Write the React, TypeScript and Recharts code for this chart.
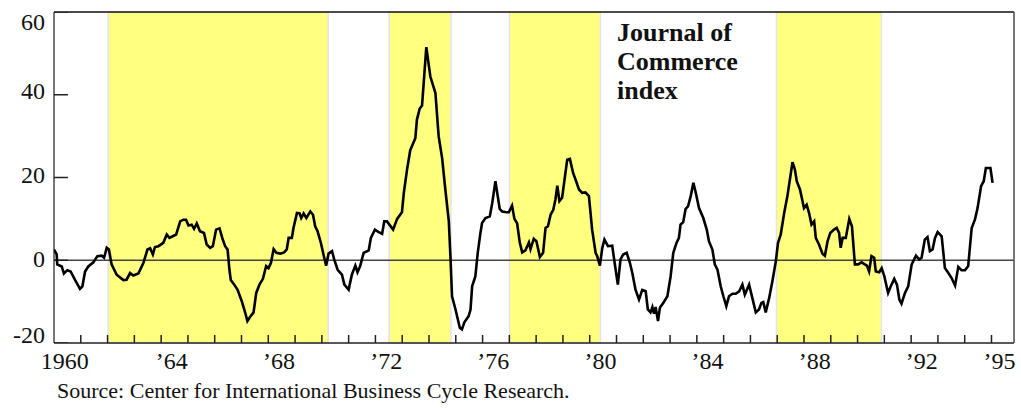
import { ComposedChart, Line, XAxis, YAxis, ReferenceArea, ReferenceLine } from 'recharts'

// decimal year of each reading
const dates = [
  1960.0, 1960.1, 1960.12, 1960.29, 1960.37, 1960.5, 1960.62, 1960.78, 1960.97, 1961.06,
  1961.16, 1961.28, 1961.47, 1961.62, 1961.78, 1961.87, 1961.97, 1962.05, 1962.15, 1962.34,
  1962.59, 1962.71, 1962.84, 1962.96, 1963.15, 1963.34, 1963.49, 1963.59, 1963.69, 1963.77,
  1963.9, 1964.08, 1964.21, 1964.31, 1964.43, 1964.56, 1964.71, 1964.83, 1964.93, 1965.02,
  1965.14, 1965.23, 1965.33, 1965.45, 1965.6, 1965.7, 1965.83, 1965.93, 1966.05, 1966.18,
  1966.3, 1966.39, 1966.48, 1966.55, 1966.6, 1966.73, 1966.85, 1967.01, 1967.14, 1967.22,
  1967.32, 1967.45, 1967.55, 1967.67, 1967.8, 1967.92, 1968.01, 1968.1, 1968.2, 1968.3,
  1968.45, 1968.59, 1968.69, 1968.76, 1968.88, 1968.94, 1969.07, 1969.17, 1969.23, 1969.32,
  1969.42, 1969.57, 1969.67, 1969.75, 1969.84, 1969.96, 1970.06, 1970.16, 1970.25, 1970.38,
  1970.46, 1970.59, 1970.75, 1970.84, 1971.0, 1971.12, 1971.25, 1971.33, 1971.43, 1971.56,
  1971.75, 1971.83, 1971.98, 1972.12, 1972.25, 1972.33, 1972.43, 1972.66, 1972.81, 1972.99,
  1973.06, 1973.18, 1973.3, 1973.49, 1973.55, 1973.65, 1973.74, 1973.9, 1974.05, 1974.24,
  1974.36, 1974.49, 1974.61, 1974.74, 1974.8, 1974.86, 1974.99, 1975.15, 1975.23, 1975.32,
  1975.48, 1975.55, 1975.61, 1975.73, 1975.82, 1975.92, 1975.98, 1976.11, 1976.27, 1976.36,
  1976.48, 1976.64, 1976.73, 1976.89, 1976.98, 1977.1, 1977.19, 1977.29, 1977.39, 1977.48,
  1977.6, 1977.73, 1977.79, 1977.91, 1978.01, 1978.14, 1978.26, 1978.35, 1978.44, 1978.54,
  1978.64, 1978.72, 1978.79, 1978.87, 1978.97, 1979.06, 1979.16, 1979.26, 1979.38, 1979.47,
  1979.6, 1979.72, 1979.84, 1979.97, 1980.09, 1980.22, 1980.28, 1980.38, 1980.47, 1980.55,
  1980.68, 1980.84, 1980.93, 1981.05, 1981.15, 1981.25, 1981.38, 1981.5, 1981.59, 1981.71,
  1981.84, 1981.96, 1982.09, 1982.17, 1982.27, 1982.34, 1982.4, 1982.46, 1982.55, 1982.62,
  1982.75, 1982.9, 1983.02, 1983.12, 1983.24, 1983.33, 1983.39, 1983.49, 1983.58, 1983.67,
  1983.77, 1983.87, 1983.96, 1984.08, 1984.24, 1984.37, 1984.45, 1984.58, 1984.67, 1984.77,
  1984.89, 1984.99, 1985.1, 1985.2, 1985.33, 1985.45, 1985.58, 1985.7, 1985.79, 1985.95,
  1986.07, 1986.2, 1986.32, 1986.41, 1986.48, 1986.57, 1986.7, 1986.82, 1986.95, 1987.03,
  1987.13, 1987.26, 1987.38, 1987.51, 1987.57, 1987.66, 1987.73, 1987.85, 1988.0, 1988.1,
  1988.19, 1988.28, 1988.38, 1988.44, 1988.56, 1988.69, 1988.78, 1988.88, 1988.98, 1989.12,
  1989.22, 1989.31, 1989.37, 1989.44, 1989.56, 1989.69, 1989.79, 1989.9, 1990.02, 1990.15,
  1990.27, 1990.35, 1990.43, 1990.52, 1990.62, 1990.68, 1990.81, 1990.9, 1991.0, 1991.14,
  1991.24, 1991.37, 1991.47, 1991.56, 1991.64, 1991.77, 1991.89, 1992.02, 1992.18, 1992.3,
  1992.39, 1992.51, 1992.61, 1992.7, 1992.8, 1992.89, 1992.99, 1993.14, 1993.26, 1993.39,
  1993.51, 1993.64, 1993.76, 1993.88, 1994.01, 1994.13, 1994.26, 1994.38, 1994.48, 1994.61,
  1994.71, 1994.79, 1994.96, 1995.04,
]

// Journal of Commerce index, % change
const jocIndex = [
  2.6, 1.4, -1.0, -1.5, -3.2, -2.4, -2.7, -4.7, -6.9, -6.3,
  -2.7, -1.5, -0.5, 1.0, 1.1, 0.6, 3.0, 2.6, -1.0, -3.5,
  -4.8, -4.7, -3.1, -3.7, -3.2, -0.6, 2.6, 2.9, 1.4, 3.2,
  3.4, 4.2, 6.2, 5.4, 5.8, 6.2, 9.4, 9.8, 9.8, 8.4,
  8.6, 7.6, 8.9, 7.0, 6.6, 3.8, 3.0, 3.4, 7.4, 7.7,
  5.0, 3.4, 2.6, -2.3, -4.8, -5.9, -7.1, -9.9, -12.7, -14.7,
  -13.7, -12.6, -7.9, -5.9, -4.5, -1.4, -1.9, -0.6, 2.7, 1.8,
  1.6, 1.9, 2.6, 5.4, 5.4, 7.8, 11.4, 11.3, 10.2, 11.3,
  10.2, 11.8, 11.0, 8.2, 7.0, 4.3, 1.4, -1.3, 1.6, 2.2,
  0.2, -2.3, -3.5, -5.9, -7.1, -3.5, -1.3, -2.9, -1.4, 1.8,
  2.4, 5.4, 7.4, 6.8, 6.4, 9.4, 9.4, 7.4, 10.0, 11.6,
  16.3, 21.9, 26.6, 29.5, 34.0, 36.6, 37.4, 51.5, 44.4, 40.4,
  30.0, 24.7, 17.1, 9.4, 1.0, -8.7, -11.9, -16.3, -16.7, -15.0,
  -13.5, -11.9, -6.3, -3.9, 1.8, 6.6, 9.0, 10.2, 10.6, 13.8,
  19.1, 12.4, 11.8, 11.6, 11.6, 13.2, 10.0, 8.9, 4.2, 1.9,
  2.4, 4.3, 2.7, 5.2, 4.6, 0.8, 1.8, 7.8, 8.2, 11.0,
  12.2, 14.7, 18.0, 14.3, 15.1, 19.5, 24.3, 24.5, 21.1, 19.5,
  17.1, 16.3, 16.4, 15.5, 7.4, 1.8, 1.0, -1.3, 3.0, 5.0,
  3.4, 3.5, -0.6, -5.9, 0.2, 1.4, 1.8, -0.6, -3.1, -7.1,
  -9.5, -7.2, -7.5, -11.9, -12.6, -11.3, -12.9, -11.3, -14.7, -11.5,
  -10.3, -8.7, -3.9, 1.8, 4.2, 5.4, 8.6, 9.2, 12.4, 13.0,
  15.5, 18.7, 16.3, 12.6, 10.2, 7.4, 4.6, 2.6, -1.0, -2.3,
  -6.3, -8.7, -11.1, -8.7, -8.1, -8.1, -7.5, -5.9, -8.3, -5.9,
  -9.1, -12.6, -11.9, -10.3, -10.1, -12.6, -9.1, -5.1, -0.2, 4.2,
  6.2, 11.4, 15.5, 21.1, 23.7, 21.9, 19.1, 17.1, 12.6, 13.4,
  11.4, 8.6, 9.4, 5.4, 3.8, 1.6, 1.1, 4.6, 6.6, 7.4,
  7.8, 6.6, 3.0, 5.4, 5.4, 10.0, 8.2, -1.0, -1.0, -0.5,
  -1.0, -1.3, -2.7, 1.0, 0.6, -2.7, -2.9, -1.9, -3.9, -7.9,
  -6.3, -4.5, -5.9, -9.5, -10.5, -7.9, -6.3, -1.0, 1.1, 0.2,
  0.6, 5.0, 5.6, 2.2, 2.6, 5.4, 6.8, 5.8, -1.9, -3.1,
  -4.3, -6.1, -1.6, -2.4, -2.4, -1.4, 7.8, 9.8, 12.6, 17.9,
  19.1, 22.3, 22.3, 18.7,
]

// shaded periods (start, end) in decimal years
const bandStarts = [1962.02, 1972.51, 1977.0, 1986.97]
const bandEnds = [1970.24, 1974.82, 1980.4, 1990.89]

const yearTicks = Array.from({ length: 35 }, (_, i) => 1961 + i)
const labelTicks = [1960.4, 1964.4, 1968.4, 1972.4, 1976.4, 1980.4, 1984.4, 1988.4, 1992.4, 1995.3]
const labelText = ['1960', '\u201964', '\u201968', '\u201972', '\u201976', '\u201980', '\u201984', '\u201988', '\u201992', '\u201995']
const yTicks = [-20, 0, 20, 40, 60]

const X_DOMAIN: [number, number] = [1960, 1995.84]
const Y_DOMAIN: [number, number] = [-20, 60]
const X_MARK_LEN = 1.93 // index points, ~8px inward
const Y_MARK_LEN = 0.52 // years, ~14px inward
const SERIF = '"Liberation Serif", "Times New Roman", serif'

const data = dates.map((t, i) => ({ t, v: jocIndex[i] }))

// tick marks as short broken strokes: start, end, gap
const xMarkPath = yearTicks.flatMap((t) => [
  { t, m: Y_DOMAIN[0] },
  { t, m: Y_DOMAIN[0] + X_MARK_LEN },
  { t, m: null },
])
const yMarkPath = yTicks.flatMap((v) => [
  { t: X_DOMAIN[0], m: v },
  { t: X_DOMAIN[0] + Y_MARK_LEN, m: v },
  { t: X_DOMAIN[0] + Y_MARK_LEN, m: null },
])

const yLabelShift: Record<string, number> = { '60': 9.5, '40': -4, '20': -3, '0': -1.5, '-20': -8 }

function YTick(props: any) {
  const { x, y, payload } = props
  const shift = yLabelShift[String(payload.value)] ?? 0
  return (
    <text x={x} y={y + shift} dy="0.35em" textAnchor="end" fontSize={24} fontFamily={SERIF} fill="#111">
      {payload.value}
    </text>
  )
}

export default function App() {
  return (
    <div style={{ position: 'absolute', left: 0, top: 0, width: 1021, height: 408, background: '#fff' }}>
      <ComposedChart width={1021} height={408} data={data} margin={{ top: 12, right: 7, bottom: 35, left: 0 }}>
        {bandStarts.map((s, i) => (
          <ReferenceArea
            key={s}
            xAxisId="yr"
            yAxisId="l"
            x1={s}
            x2={bandEnds[i]}
            y1={Y_DOMAIN[0]}
            y2={Y_DOMAIN[1]}
            fill="#ffff80"
            fillOpacity={1}
            stroke="#e2e2f2"
            strokeWidth={1.5}
          />
        ))}
        <ReferenceLine xAxisId="yr" yAxisId="l" y={0} stroke="#444" strokeWidth={1.6} />
        {/* frame */}
        <ReferenceLine xAxisId="yr" yAxisId="l" y={Y_DOMAIN[1]} stroke="#111" strokeWidth={1.6} />
        <ReferenceLine xAxisId="yr" yAxisId="l" y={Y_DOMAIN[0]} stroke="#222" strokeWidth={1.6} />
        <ReferenceLine xAxisId="yr" yAxisId="l" x={X_DOMAIN[0]} stroke="#555" strokeWidth={1.6} />
        <ReferenceLine xAxisId="yr" yAxisId="l" x={X_DOMAIN[1]} stroke="#555" strokeWidth={1.6} />
        <XAxis
          xAxisId="yr"
          dataKey="t"
          type="number"
          domain={X_DOMAIN}
          ticks={labelTicks}
          tickFormatter={(v: number) => labelText[labelTicks.indexOf(v)] ?? ''}
          tickSize={0}
          tickMargin={9}
          height={30}
          interval={0}
          allowDataOverflow
          axisLine={false}
          tickLine={false}
          tick={{ fontSize: 24, fill: '#111', fontFamily: SERIF }}
        />
        <YAxis
          yAxisId="l"
          type="number"
          domain={Y_DOMAIN}
          ticks={yTicks}
          interval={0}
          width={54}
          tickSize={0}
          tickMargin={9}
          tick={<YTick />}
          axisLine={false}
          tickLine={false}
          allowDataOverflow
        />
        <Line
          xAxisId="yr"
          yAxisId="l"
          data={xMarkPath}
          dataKey="m"
          type="linear"
          stroke="#222"
          strokeWidth={1.5}
          connectNulls={false}
          dot={false}
          activeDot={false}
          isAnimationActive={false}
        />
        <Line
          xAxisId="yr"
          yAxisId="l"
          data={yMarkPath}
          dataKey="m"
          type="linear"
          stroke="#222"
          strokeWidth={1.5}
          connectNulls={false}
          dot={false}
          activeDot={false}
          isAnimationActive={false}
        />
        <Line
          xAxisId="yr"
          yAxisId="l"
          dataKey="v"
          type="linear"
          stroke="#000"
          strokeWidth={2.6}
          dot={false}
          activeDot={false}
          isAnimationActive={false}
        />
      </ComposedChart>
      <div
        style={{
          position: 'absolute',
          left: 617,
          top: 18,
          fontFamily: SERIF,
          fontWeight: 'bold',
          fontSize: 26,
          lineHeight: '29px',
          color: '#111',
        }}
      >
        Journal of
        <br />
        Commerce
        <br />
        index
      </div>
      <div
        style={{
          position: 'absolute',
          left: 57,
          top: 380,
          fontFamily: SERIF,
          fontSize: 22,
          lineHeight: '22px',
          color: '#111',
          whiteSpace: 'nowrap',
        }}
      >
        Source: Center for International Business Cycle Research.
      </div>
    </div>
  )
}
